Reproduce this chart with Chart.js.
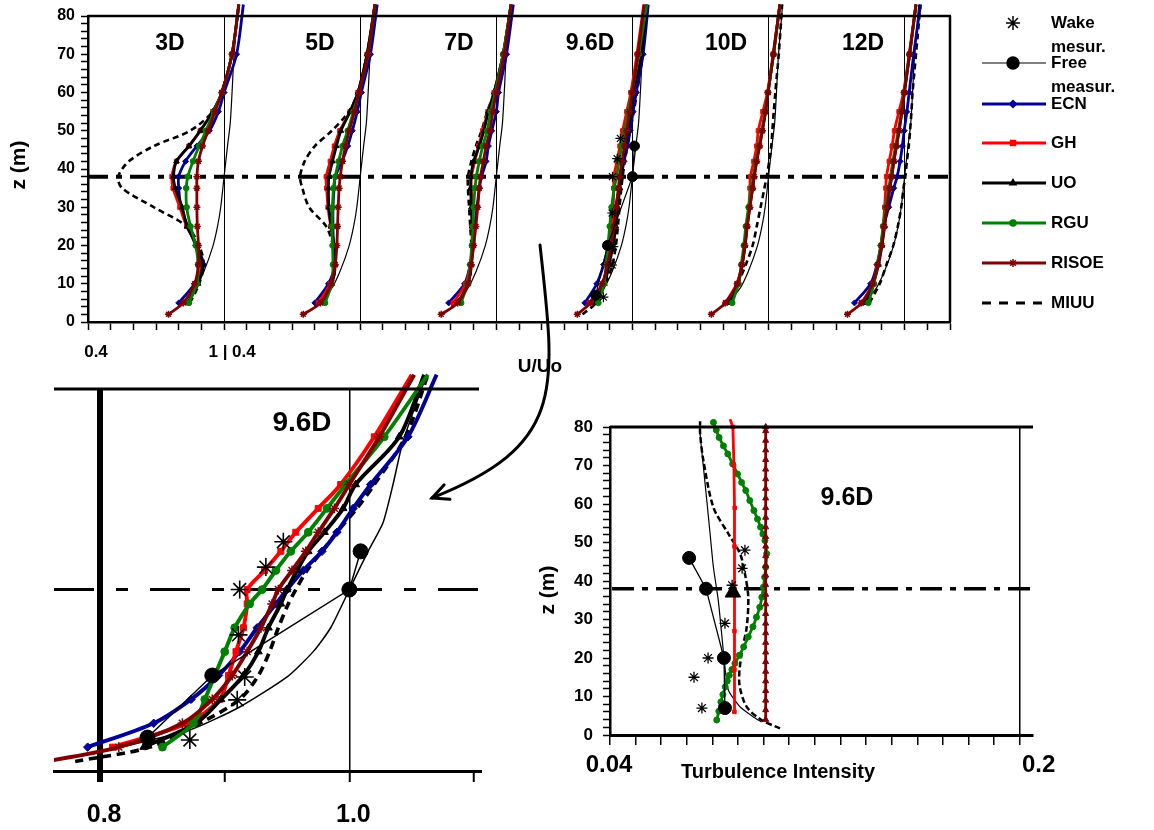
<!DOCTYPE html>
<html>
<head>
<meta charset="utf-8">
<script src="https://cdn.jsdelivr.net/npm/chart.js@4.4.0/dist/chart.umd.min.js"></script>
<style>
  body { margin: 0; background: #fff; }
  #wrap { position: relative; width: 1154px; height: 830px; overflow: hidden; background: #fff; }
  canvas { position: absolute; }
</style>
</head>
<body>
<div id="wrap">
  <canvas id="top" width="1154" height="380" style="left:0;top:0"></canvas>
  <canvas id="zoom" width="520" height="490" style="left:0;top:340px"></canvas>
  <canvas id="ti" width="634" height="430" style="left:520px;top:400px"></canvas>
  <canvas id="arrow" width="1154" height="830" style="left:0;top:0;pointer-events:none"></canvas>
</div>
<script>
// ---- data ----
// velocity profiles U/Uo at heights Z_MODEL, one row per downstream distance
const PANELS = ['3D', '5D', '7D', '9.6D', '10D', '12D'];
const Z_MODEL = [2, 5, 10, 15, 20, 25, 30, 35, 38, 42, 46, 50, 55, 60, 70, 83];

const ECN = [
  [null, 0.80, 0.87, 0.91, 0.875, 0.84, 0.81, 0.80, 0.80, 0.83, 0.88, 0.935, 0.975, 1.00, 1.055, 1.085],
  [null, 0.80, 0.86, 0.888, 0.882, 0.88, 0.88, 0.885, 0.89, 0.92, 0.945, 0.965, 0.987, 1.005, 1.045, 1.075],
  [null, 0.79, 0.86, 0.885, 0.90, 0.905, 0.915, 0.925, 0.935, 0.955, 0.965, 0.98, 1.00, 1.01, 1.045, 1.075],
  [null, 0.79, 0.843, 0.873, 0.895, 0.912, 0.926, 0.941, 0.95, 0.963, 0.978, 0.99, 1.003, 1.017, 1.047, 1.07],
  null,
  [null, 0.779, 0.85, 0.878, 0.895, 0.908, 0.93, 0.952, 0.967, 0.98, 0.99, 0.998, 1.01, 1.02, 1.04, 1.07]
];
const GH = [
  [null, 0.84, 0.88, 0.90, 0.88, 0.835, 0.805, 0.775, 0.77, 0.79, 0.845, 0.895, 0.95, 0.99, 1.035, 1.065],
  [null, 0.815, 0.868, 0.888, 0.882, 0.87, 0.858, 0.852, 0.85, 0.868, 0.886, 0.91, 0.955, 0.99, 1.03, 1.065],
  [null, 0.81, 0.865, 0.885, 0.893, 0.893, 0.895, 0.89, 0.89, 0.905, 0.922, 0.94, 0.963, 0.99, 1.03, 1.065],
  [null, 0.81, 0.87, 0.896, 0.903, 0.909, 0.915, 0.918, 0.918, 0.932, 0.945, 0.957, 0.975, 0.993, 1.02, 1.05],
  [null, 0.81, 0.86, 0.883, 0.895, 0.905, 0.913, 0.918, 0.92, 0.935, 0.948, 0.955, 0.975, 0.995, 1.02, 1.05],
  [null, 0.81, 0.86, 0.88, 0.898, 0.905, 0.912, 0.917, 0.92, 0.932, 0.945, 0.955, 0.975, 0.995, 1.02, 1.05]
];
const UO = [
  [null, 0.84, 0.885, 0.905, 0.88, 0.837, 0.815, 0.785, 0.777, 0.79, 0.845, 0.895, 0.95, 0.99, 1.035, 1.065],
  [null, 0.83, 0.875, 0.89, 0.885, 0.872, 0.862, 0.86, 0.862, 0.878, 0.895, 0.915, 0.955, 0.99, 1.03, 1.065],
  [null, 0.83, 0.875, 0.89, 0.895, 0.893, 0.89, 0.887, 0.888, 0.90, 0.925, 0.945, 0.965, 0.99, 1.03, 1.065],
  [null, 0.835, 0.877, 0.897, 0.915, 0.927, 0.935, 0.945, 0.95, 0.958, 0.967, 0.98, 0.995, 1.005, 1.04, 1.06],
  [null, 0.83, 0.866, 0.884, 0.897, 0.906, 0.917, 0.93, 0.937, 0.947, 0.96, 0.972, 0.987, 0.998, 1.022, 1.05],
  [null, 0.83, 0.862, 0.885, 0.90, 0.912, 0.922, 0.935, 0.943, 0.952, 0.964, 0.975, 0.988, 0.999, 1.022, 1.05]
];
const RGU = [
  [null, 0.845, 0.88, 0.885, 0.875, 0.852, 0.835, 0.833, 0.84, 0.863, 0.89, 0.92, 0.955, 0.99, 1.035, 1.065],
  [null, 0.845, 0.875, 0.88, 0.878, 0.876, 0.878, 0.882, 0.89, 0.905, 0.922, 0.945, 0.97, 0.995, 1.035, 1.065],
  [null, 0.845, 0.873, 0.885, 0.892, 0.897, 0.90, 0.906, 0.912, 0.925, 0.94, 0.96, 0.975, 0.995, 1.03, 1.065],
  [null, 0.85, 0.875, 0.884, 0.892, 0.90, 0.908, 0.92, 0.93, 0.941, 0.953, 0.967, 0.982, 0.997, 1.028, 1.063],
  [null, 0.84, 0.868, 0.88, 0.891, 0.90, 0.912, 0.925, 0.933, 0.944, 0.958, 0.97, 0.985, 0.997, 1.022, 1.05],
  [null, 0.84, 0.865, 0.88, 0.895, 0.905, 0.917, 0.93, 0.938, 0.948, 0.96, 0.972, 0.986, 0.997, 1.022, 1.05]
];
const RISOE = [
  [0.755, 0.82, 0.87, 0.887, 0.887, 0.882, 0.88, 0.88, 0.88, 0.887, 0.905, 0.93, 0.96, 0.99, 1.035, 1.065],
  [0.749, 0.825, 0.872, 0.89, 0.897, 0.90, 0.903, 0.907, 0.912, 0.922, 0.935, 0.952, 0.975, 0.995, 1.035, 1.065],
  [0.757, 0.83, 0.875, 0.89, 0.90, 0.91, 0.918, 0.925, 0.93, 0.943, 0.955, 0.972, 0.985, 1.00, 1.035, 1.065],
  [0.757, 0.815, 0.866, 0.89, 0.906, 0.918, 0.929, 0.938, 0.943, 0.954, 0.965, 0.975, 0.988, 1.00, 1.024, 1.052],
  [0.748, 0.81, 0.862, 0.883, 0.896, 0.906, 0.918, 0.93, 0.937, 0.948, 0.961, 0.973, 0.987, 0.998, 1.022, 1.05],
  [0.748, 0.81, 0.859, 0.882, 0.899, 0.91, 0.922, 0.935, 0.943, 0.953, 0.964, 0.976, 0.988, 0.999, 1.022, 1.05]
];
const MIUU = [
  [null, 0.85, 0.89, 0.91, 0.89, 0.835, 0.69, 0.55, 0.533, 0.58, 0.69, 0.85, 0.95, 0.99, 1.035, 1.065],
  [null, 0.83, 0.876, 0.89, 0.88, 0.85, 0.775, 0.745, 0.735, 0.755, 0.80, 0.875, 0.95, 0.99, 1.03, 1.065],
  [null, 0.835, 0.878, 0.89, 0.89, 0.885, 0.88, 0.875, 0.875, 0.89, 0.91, 0.935, 0.96, 0.99, 1.03, 1.065],
  [0.78, 0.84, 0.88, 0.912, 0.927, 0.936, 0.943, 0.951, 0.957, 0.966, 0.978, 0.99, 1.006, 1.02, 1.045, 1.063],
  [null, 0.83, 0.865, 0.90, 0.93, 0.948, 0.965, 0.982, 0.992, 1.003, 1.012, 1.017, 1.023, 1.03, 1.045, 1.06],
  [null, 0.845, 0.89, 0.92, 0.95, 0.97, 0.985, 0.995, 1.003, 1.01, 1.018, 1.024, 1.03, 1.035, 1.05, 1.07]
];

// undisturbed profile (thin line in every panel)
const FREE_Z = [4, 8.6, 13.4, 19.7, 25, 30, 38, 46, 52, 60, 69, 83];
const FREE_U = [0.80, 0.872, 0.912, 0.95, 0.971, 0.985, 1.0, 1.015, 1.027, 1.035, 1.043, 1.062];

// measurements at 9.6D
const FREE_MEAS_Z = [7, 20, 38, 46];
const FREE_MEAS_U = [0.838, 0.89, 1.0, 1.009];
const WAKE_Z = [6.5, 14.9, 19.7, 28.5, 38, 42.7, 48];
const WAKE_U = [0.872, 0.91, 0.916, 0.911, 0.912, 0.933, 0.947];

// turbulence intensity at 9.6D
const TI_WAKE_Z = [7, 15, 20, 29, 38.9, 43.3, 48];
const TI_WAKE = [0.0759, 0.0728, 0.0783, 0.0849, 0.0877, 0.0916, 0.0927];
const TI_FREE_Z = [7, 20, 38, 46];
const TI_FREE = [0.0849, 0.0845, 0.0775, 0.0709];
const TI_UO_Z = [37];
const TI_UO = [0.088];
const TI_GH_Z = [6, 17, 27, 38, 49, 59, 70, 80, 82];
const TI_GH = [0.0886, 0.0886, 0.0886, 0.0886, 0.0886, 0.0887, 0.0884, 0.0880, 0.0869];
const TI_RISOE_Z = [4, 6.5, 9, 11.5, 14, 16.5, 19, 21.5, 24, 26.5, 29, 31.5, 34, 36.5, 39, 41.5,
  44, 46.5, 49, 51.5, 54, 56.5, 59, 61.5, 64, 66.5, 69, 71.5, 74, 76.5, 79, 80];
const TI_RISOE = [0.1008, 0.1008, 0.1008, 0.1008, 0.1008, 0.1008, 0.1008, 0.1008, 0.1008, 0.1008, 0.1008,
  0.1008, 0.1008, 0.1008, 0.1008, 0.1008, 0.1008, 0.1008, 0.1008, 0.1008, 0.1008, 0.1008, 0.1008,
  0.1008, 0.1008, 0.1008, 0.1008, 0.1008, 0.1008, 0.1008, 0.1008, 0.1008];
const TI_RGU_Z = [3.9, 6.2, 8.6, 10.5, 12.5, 14, 15.5, 17, 18.6, 20.7, 22.9, 25.5, 28.1, 30.6, 33.2, 35.8, 38.4,
  41, 43.6, 47.1, 50.5, 52.2, 54, 56.1, 58.3, 60.9, 63.5, 65.6, 67.8, 70.4, 73, 75.1, 77.3, 79.2, 81.2];
const TI_RGU = [0.0817, 0.0825, 0.0833, 0.0841, 0.085, 0.0858, 0.0866, 0.0876, 0.0888, 0.0905, 0.0922, 0.094,
  0.0958, 0.0972, 0.0985, 0.0993, 0.0999, 0.1004, 0.1008, 0.1012, 0.1005, 0.0997, 0.0988, 0.0976, 0.0962,
  0.0946, 0.093, 0.0914, 0.0898, 0.0879, 0.086, 0.0843, 0.0826, 0.0815, 0.0804];
const TI_INFLOW_Z = [3.4, 4.7, 7.3, 11.7, 17.6, 26.3, 34.9, 43.5, 52.2, 60.9, 69.5, 78.2, 81.2];
const TI_INFLOW = [0.0992, 0.096, 0.0908, 0.0862, 0.0849, 0.0836, 0.0823, 0.0804, 0.0791, 0.0778, 0.0765, 0.0752, 0.0752];
const TI_MIUU_Z = [1.7, 3.9, 7.3, 13.4, 21.2, 28.1, 35.8, 41.9, 47.1, 52.3, 59.1, 71.2, 78.2, 81.5];
const TI_MIUU = [0.1064, 0.0992, 0.0934, 0.0905, 0.0914, 0.0934, 0.094, 0.0927, 0.0908, 0.0862, 0.0804, 0.0765, 0.0752, 0.0752];

const HUB = 38;

// ---- setup ----
const FONT = '"Liberation Sans", Arial, sans-serif';
Chart.defaults.font.family = FONT;
Chart.defaults.font.weight = 'bold';
Chart.defaults.color = '#000';
Chart.defaults.animation = false;
Chart.defaults.events = [];
Chart.defaults.plugins.legend.display = false;
Chart.defaults.plugins.tooltip.enabled = false;

const Z_TICKS = [];
for (let v = 0; v <= 80; v += 2) Z_TICKS.push(v);
const TOP_TICKS = [];
for (let i = 4; i <= 42; i++) TOP_TICKS.push(i / 10);
const TOP_LABELS = {4: '0.4', 10: '1 | 0.4'};
const PANEL_LINES = [10, 16, 22, 28, 34, 40];
const ZOOM_TICKS = [0.8, 0.9, 1.0, 1.1];
const TI_TICKS = [];
for (let i = 4; i <= 20; i++) TI_TICKS.push(i / 100);
const TI_LABELS = [[0.04, '0.04', -1], [0.2, '0.2', 19]];

const CLIP = {left: 0, right: 0, top: false, bottom: 0};

const SERIES = [
  {u: RISOE, color: '#800000', style: 'star', r: 3.5, w: 2.8},
  {u: RGU, color: '#008000', style: 'circle', r: 2.8, w: 2.8},
  {u: UO, color: '#000000', style: 'triangle', r: 3.2, w: 2.8},
  {u: GH, color: '#ff0000', style: 'rect', r: 3, w: 2.8},
  {u: ECN, color: '#000099', style: 'rectRot', r: 3, w: 2.8},
  {u: MIUU, color: '#000000', style: false, r: 0, w: 2.6, dash: [6, 4]}
];

function pts(us, zs, shift) {
  const out = [];
  zs.forEach((z, i) => { if (us[i] != null) out.push({x: us[i] + shift, y: z}); });
  return out;
}

function lineSet(data, o) {
  return {
    data: data, showLine: o.line !== false, tension: o.tension || 0,
    borderColor: o.color, backgroundColor: o.color,
    borderWidth: o.w || 0, borderDash: o.dash || [],
    pointStyle: o.style || 'circle', pointRadius: o.r || 0,
    pointBorderColor: o.color, pointBackgroundColor: o.color,
    pointBorderWidth: o.pbw || 1, clip: CLIP
  };
}

function modelSets(p, shift, k) {
  return SERIES.filter(s => s.u[p]).map(s => lineSet(pts(s.u[p], Z_MODEL, shift), {
    color: s.color, w: s.w * k, dash: s.dash ? s.dash.map(d => d * k) : [],
    style: s.style, r: s.r * k, pbw: s.style === 'star' ? 1.5 : 1, tension: 0.3
  }));
}

function yAxis(width, fontSize, pad, ticks) {
  return {
    type: 'linear', min: 0, max: 80,
    afterBuildTicks: s => { s.ticks = ticks.map(v => ({value: v})); },
    afterFit: s => { s.width = width; },
    ticks: {callback: v => (v % 10 === 0 ? v : ''), font: {size: fontSize, weight: 'bold'},
      color: '#000', padding: pad, autoSkip: false},
    grid: {drawOnChartArea: false, tickLength: 7, tickColor: '#000', tickWidth: 1.5},
    border: {color: '#000', width: 2.5}
  };
}

function text(ctx, s, x, y, size, align, rot) {
  ctx.save();
  ctx.font = 'bold ' + size + 'px ' + FONT;
  ctx.fillStyle = '#000';
  ctx.textAlign = align || 'center';
  ctx.textBaseline = 'middle';
  ctx.translate(x, y);
  if (rot) ctx.rotate(rot);
  ctx.fillText(s, 0, 0);
  ctx.restore();
}

function hline(ctx, x1, x2, y, w) {
  ctx.save();
  ctx.strokeStyle = '#000';
  ctx.lineWidth = w;
  ctx.beginPath(); ctx.moveTo(x1, y); ctx.lineTo(x2, y); ctx.stroke();
  ctx.restore();
}

// ---- top chart: all distances side by side ----
const topSets = [];
const P96 = 3;
topSets.push(lineSet(pts(WAKE_U, WAKE_Z, 0.6 * P96), {color: '#000', line: false, style: 'star', r: 5, pbw: 1.2}));
topSets.push(lineSet(pts(FREE_MEAS_U, FREE_MEAS_Z, 0.6 * P96), {color: '#000', w: 1.2, r: 5}));
PANELS.forEach((name, p) => {
  topSets.push(...modelSets(p, 0.6 * p, 1));
  topSets.push(lineSet(pts(FREE_U, FREE_Z, 0.6 * p), {color: '#000', w: 1.2, tension: 0.3}));
});
topSets.push(lineSet([{x: 0.4, y: HUB}, {x: 4.2, y: HUB}], {color: '#000', w: 4, dash: [20, 8, 6, 8]}));

const LEGEND = [
  {label: ['Wake', 'mesur.'], y: 23, style: 'star', r: 7, color: '#000', w: 0},
  {label: ['Free', 'measur.'], y: 63, style: 'circle', r: 6, color: '#000', w: 1.2},
  {label: ['ECN'], y: 104, style: 'rectRot', r: 3.5, color: '#000099', w: 3},
  {label: ['GH'], y: 143, style: 'rect', r: 3.5, color: '#ff0000', w: 3},
  {label: ['UO'], y: 183, style: 'triangle', r: 3.5, color: '#000000', w: 3},
  {label: ['RGU'], y: 223, style: 'circle', r: 3, color: '#008000', w: 3},
  {label: ['RISOE'], y: 263, style: 'star', r: 4, color: '#800000', w: 3},
  {label: ['MIUU'], y: 303, style: false, r: 0, color: '#000000', w: 3, dash: [9, 8]}
];
const PANEL_LABEL_X = [170, 320, 459, 590, 726, 863];

const topDecor = {
  id: 'topDecor',
  afterDraw(chart) {
    const ctx = chart.ctx, a = chart.chartArea;
    hline(ctx, a.left, a.right + 1, a.top, 2.5);
    ctx.save();
    ctx.strokeStyle = '#000'; ctx.lineWidth = 2.5;
    ctx.beginPath(); ctx.moveTo(a.right, a.top); ctx.lineTo(a.right, a.bottom); ctx.stroke();
    ctx.restore();
    PANELS.forEach((n, i) => text(ctx, n, PANEL_LABEL_X[i], 44, 23));
    text(ctx, 'z (m)', 19, 165, 21, 'center', -Math.PI / 2);
    text(ctx, 'U/Uo', 540, 367, 19);
    LEGEND.forEach(it => {
      ctx.save();
      if (it.w) {
        ctx.strokeStyle = it.color; ctx.lineWidth = it.w;
        ctx.setLineDash(it.dash || []);
        ctx.beginPath(); ctx.moveTo(982, it.y); ctx.lineTo(1046, it.y); ctx.stroke();
        ctx.setLineDash([]);
      }
      if (it.style) {
        ctx.fillStyle = it.color; ctx.strokeStyle = it.color; ctx.lineWidth = 1.5;
        Chart.helpers.drawPoint(ctx, {pointStyle: it.style, radius: it.r, rotation: 0, borderWidth: 1.5}, 1013, it.y);
      }
      ctx.restore();
      it.label.forEach((s, j) => text(ctx, s, 1051, it.y + j * 24, 17, 'left'));
    });
  }
};

new Chart(document.getElementById('top'), {
  type: 'scatter',
  data: {datasets: topSets},
  options: {
    responsive: false, devicePixelRatio: 1,
    layout: {padding: {left: 0, right: 204, top: 16, bottom: 0}},
    scales: {
      x: {
        type: 'linear', min: 0.4, max: 4.2,
        afterBuildTicks: s => { s.ticks = TOP_TICKS.map(v => ({value: v})); },
        afterFit: s => { s.height = 58; },
        ticks: {callback: v => TOP_LABELS[Math.round(v * 10)] || '', font: {size: 17, weight: 'bold'},
          color: '#000', padding: 12, labelOffset: 8, autoSkip: false, maxRotation: 0, minRotation: 0},
        grid: {
          color: c => (PANEL_LINES.includes(Math.round(c.tick.value * 10)) ? '#000' : 'rgba(0,0,0,0)'),
          lineWidth: 1, tickColor: '#000', tickLength: 8, tickWidth: 1.5
        },
        border: {color: '#000', width: 2.5}
      },
      y: yAxis(88, 16, 6, Z_TICKS)
    }
  },
  plugins: [topDecor]
});

// ---- zoomed 9.6D profile ----
const zoomSets = [];
zoomSets.push(lineSet(pts(WAKE_U, WAKE_Z, 0), {color: '#000', line: false, style: 'star', r: 9, pbw: 1.6}));
zoomSets.push(lineSet(pts(FREE_MEAS_U, FREE_MEAS_Z, 0), {color: '#000', w: 1.5, r: 7.5}));
zoomSets.push(...modelSets(P96, 0, 1.4));
zoomSets.push(lineSet(pts(FREE_U, FREE_Z, 0), {color: '#000', w: 1.5, tension: 0.2}));
zoomSets.push(lineSet([{x: 0.763, y: HUB}, {x: 1.104, y: HUB}], {color: '#000', w: 3, dash: [40, 22, 12, 22]}));

const zoomDecor = {
  id: 'zoomDecor',
  afterDraw(chart) {
    const ctx = chart.ctx, a = chart.chartArea;
    hline(ctx, a.left, a.right, a.top, 3);
    text(ctx, '9.6D', 302, 83, 28);
  }
};

new Chart(document.getElementById('zoom'), {
  type: 'scatter',
  data: {datasets: zoomSets},
  options: {
    responsive: false, devicePixelRatio: 1,
    layout: {padding: {left: 54, right: 41, top: 49, bottom: 0}},
    scales: {
      x: {
        type: 'linear', min: 0.763, max: 1.104,
        afterBuildTicks: s => { s.ticks = ZOOM_TICKS.map(v => ({value: v})); },
        afterFit: s => { s.height = 59; },
        ticks: {callback: v => ({8: '0.8', 10: '1.0'}[Math.round(v * 10)] || ''),
          font: {size: 25, weight: 'bold'}, color: '#000', padding: 18, labelOffset: 4,
          autoSkip: false, maxRotation: 0},
        grid: {
          color: c => ([8, 10].includes(Math.round(c.tick.value * 10)) ? '#000' : 'rgba(0,0,0,0)'),
          lineWidth: c => (Math.round(c.tick.value * 10) === 8 ? 6 : 1.5),
          tickColor: '#000', tickLength: 11,
          tickWidth: c => (Math.round(c.tick.value * 10) === 8 ? 6 : 2)
        },
        border: {color: '#000', width: 3}
      },
      y: {type: 'linear', min: 0, max: 80, display: false}
    }
  },
  plugins: [zoomDecor]
});

// ---- turbulence intensity ----
const tiSets = [
  lineSet(pts(TI_WAKE, TI_WAKE_Z, 0), {color: '#000', line: false, style: 'star', r: 5.5, pbw: 1.3}),
  lineSet(pts(TI_FREE, TI_FREE_Z, 0), {color: '#000', w: 1.3, r: 6.5}),
  lineSet(pts(TI_UO, TI_UO_Z, 0), {color: '#000', line: false, style: 'triangle', r: 9}),
  lineSet(pts(TI_GH, TI_GH_Z, 0), {color: '#ff0000', w: 2.8, style: 'rect', r: 2.5}),
  lineSet(pts(TI_RISOE, TI_RISOE_Z, 0), {color: '#800000', w: 2.8, style: 'triangle', r: 3.5}),
  lineSet(pts(TI_RGU, TI_RGU_Z, 0), {color: '#008000', w: 2.8, style: 'circle', r: 3, tension: 0.3}),
  lineSet(pts(TI_MIUU, TI_MIUU_Z, 0), {color: '#000', w: 2.5, dash: [6, 3], tension: 0.3}),
  lineSet(pts(TI_INFLOW, TI_INFLOW_Z, 0), {color: '#000', w: 1.2, tension: 0.2}),
  lineSet([{x: 0.0408, y: HUB}, {x: 0.2052, y: HUB}], {color: '#000', w: 3.5, dash: [22, 8, 6, 8]})
];

const tiDecor = {
  id: 'tiDecor',
  afterDraw(chart) {
    const ctx = chart.ctx, a = chart.chartArea, sx = chart.scales.x;
    hline(ctx, a.left, a.right, a.top, 3);
    text(ctx, '9.6D', 327, 98, 25);
    text(ctx, 'Turbulence Intensity', 258, 372, 20);
    text(ctx, 'z (m)', 28, 190, 21, 'center', -Math.PI / 2);
    TI_LABELS.forEach(([v, s, dx]) => text(ctx, s, sx.getPixelForValue(v) + dx, 365, 24));
  }
};

new Chart(document.getElementById('ti'), {
  type: 'scatter',
  data: {datasets: tiSets},
  options: {
    responsive: false, devicePixelRatio: 1,
    layout: {padding: {left: 0, right: 121, top: 27, bottom: 0}},
    scales: {
      x: {
        type: 'linear', min: 0.04, max: 0.2052,
        afterBuildTicks: s => { s.ticks = TI_TICKS.map(v => ({value: v})); },
        afterFit: s => { s.height = 95; },
        ticks: {callback: () => '', autoSkip: false, maxRotation: 0},
        grid: {
          color: c => (Math.round(c.tick.value * 100) === 20 ? '#000' : 'rgba(0,0,0,0)'),
          lineWidth: 1.5, tickColor: '#000', tickLength: 10, tickWidth: 1.5
        },
        border: {color: '#000', width: 3}
      },
      y: yAxis(90, 17, 10, Z_TICKS)
    }
  },
  plugins: [tiDecor]
});

// ---- curved arrow from the 9.6D panel to the zoom ----
const g = document.getElementById('arrow').getContext('2d');
g.strokeStyle = '#000';
g.lineWidth = 3;
g.lineCap = 'round';
g.beginPath();
g.moveTo(540, 245);
g.bezierCurveTo(556, 390, 566, 445, 432, 498);
g.stroke();
const ang = Math.atan2(498 - 445, 432 - 566);
g.beginPath();
g.moveTo(432 - 18 * Math.cos(ang - 0.45), 498 - 18 * Math.sin(ang - 0.45));
g.lineTo(432, 498);
g.lineTo(432 - 18 * Math.cos(ang + 0.45), 498 - 18 * Math.sin(ang + 0.45));
g.stroke();
</script>
</body>
</html>
